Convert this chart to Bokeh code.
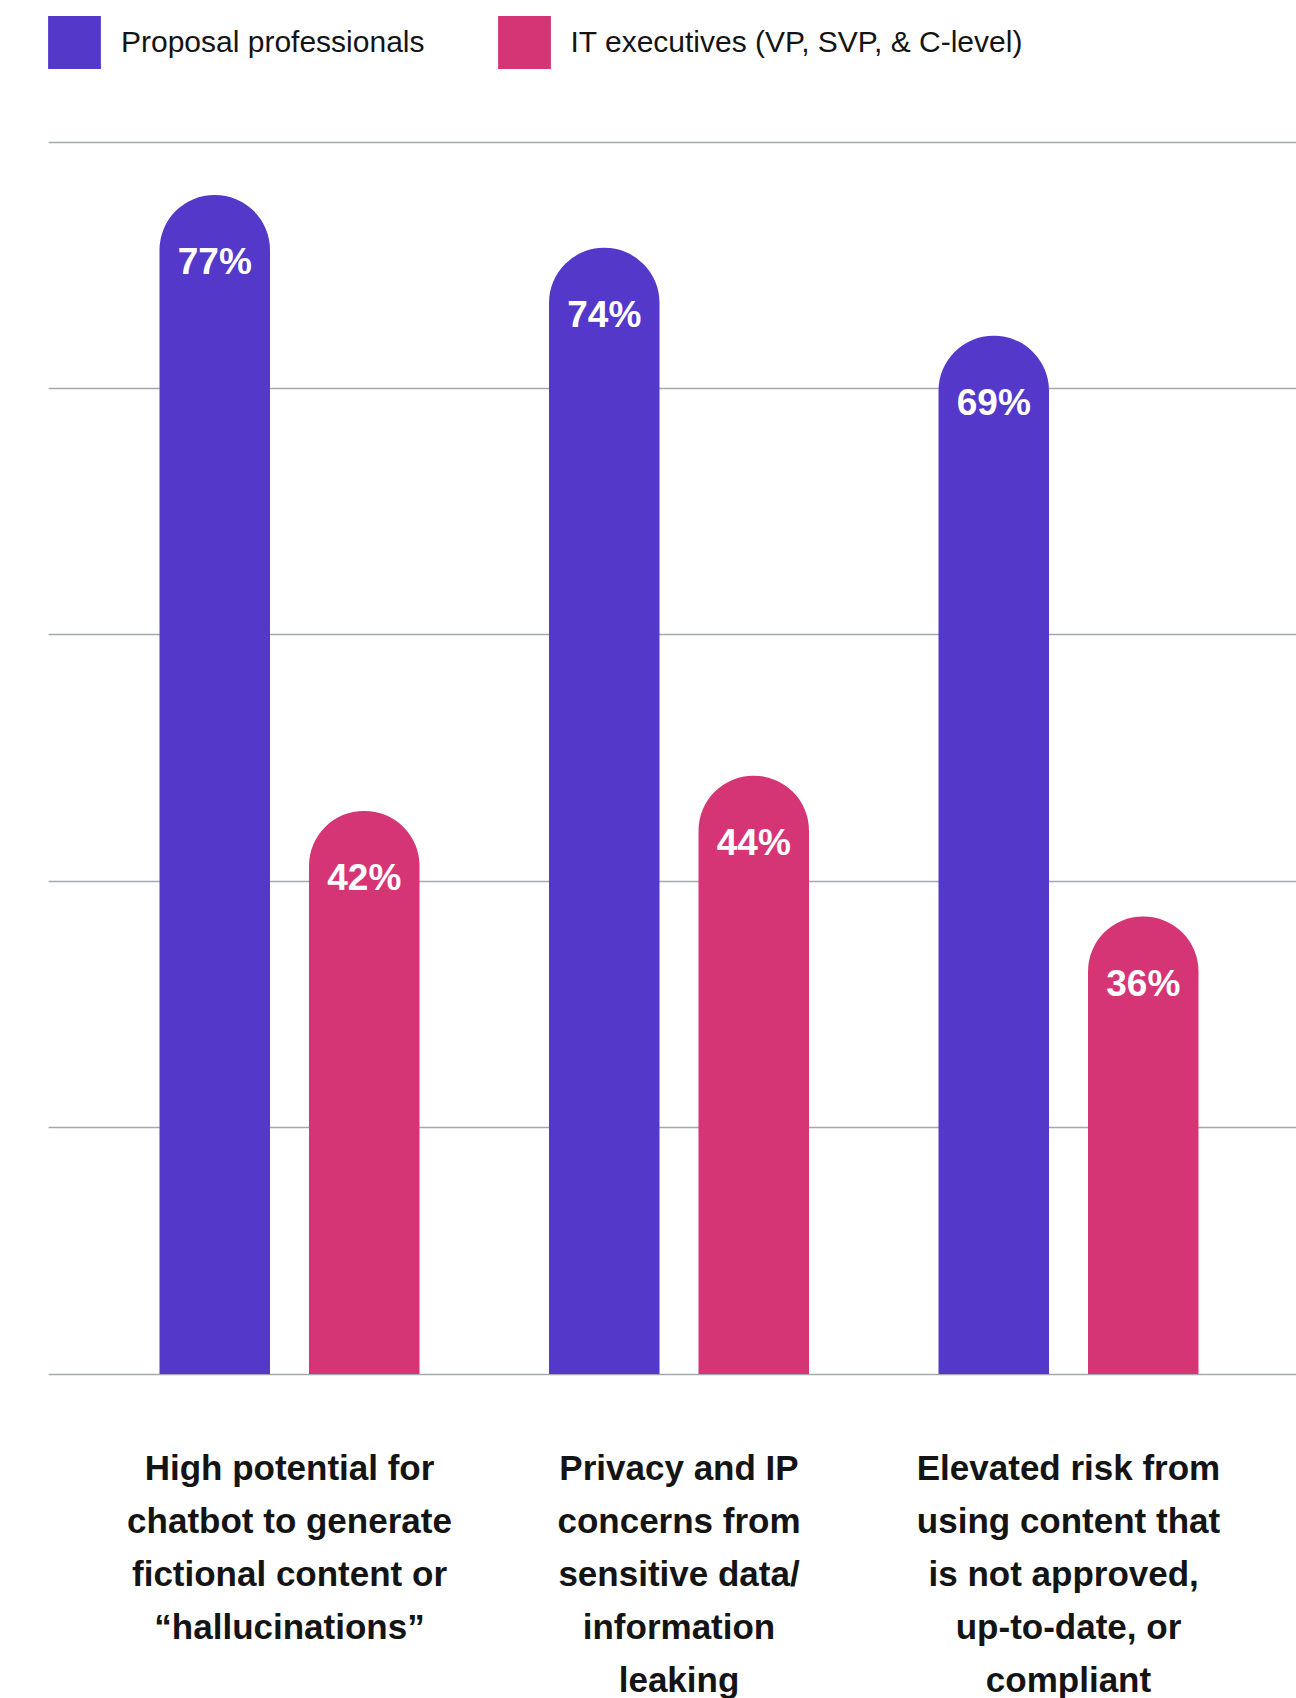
from bokeh.plotting import figure
from bokeh.models import ColumnDataSource, Range1d, FixedTicker, Grid, Legend, LegendItem, VBar
from bokeh.core.properties import value
from bokeh.embed import file_html
from bokeh.resources import INLINE

# ---------------- data ----------------
categories = [
    "High potential for\nchatbot to generate\nfictional content or\n\u201challucinations\u201d",
    "Privacy and IP\nconcerns from\nsensitive data/\ninformation\nleaking",
    "Elevated risk from\nusing content that\nis not  approved,\nup-to-date, or\ncompliant",
]
series_names = ["Proposal professionals", "IT executives (VP, SVP, & C-level)"]
proposal_pct = [77, 74, 69]
it_exec_pct = [42, 44, 36]
axis_min = 10
axis_max = 80
grid_ticks = [10, 24, 38, 52, 66, 80]

# ---------------- layout constants (screen px) ----------------
W, H = 1296, 1698
FRAME_TOP_PX = 141.7       # top gridline
BASE_PX = 1373.5           # baseline gridline
GRID_LEFT_PX = 47.6
GROUP0_PX = 289.0
GROUP_STEP_PX = 389.5
BAR_W_PX = 110.5
BAR_OFF_PX = 74.75

BLUE = "#5338CA"
PINK = "#D53575"
INK = "#141414"
FONT = "Liberation Sans"

ppu = (BASE_PX - FRAME_TOP_PX) / (axis_max - axis_min)
y_top = axis_max + FRAME_TOP_PX / ppu
y_bot = axis_min - (H - BASE_PX) / ppu
x_left = -GROUP0_PX / GROUP_STEP_PX
x_right = (W - GROUP0_PX) / GROUP_STEP_PX
bar_w = BAR_W_PX / GROUP_STEP_PX
bar_off = BAR_OFF_PX / GROUP_STEP_PX

p = figure(width=W, height=H, output_backend="svg", toolbar_location=None,
           x_range=Range1d(x_left, x_right), y_range=Range1d(y_bot, y_top),
           x_axis_location=None, y_axis_location=None, min_border=0)
p.outline_line_color = None
p.background_fill_color = "white"
p.border_fill_color = "white"
for g in list(p.xgrid) + list(p.ygrid):
    g.visible = False

grid = Grid(dimension=1, ticker=FixedTicker(ticks=grid_ticks),
            grid_line_color="#a5a9ae", grid_line_width=1.5)
if "cross_bounds" in Grid.properties():
    grid.cross_bounds = (GRID_LEFT_PX / GROUP_STEP_PX + x_left, x_right)
p.add_layout(grid, "center")

idx = list(range(len(categories)))
src_a = ColumnDataSource(dict(x=[i - bar_off for i in idx], top=proposal_pct,
                              lab=[f"{v}%" for v in proposal_pct]))
src_b = ColumnDataSource(dict(x=[i + bar_off for i in idx], top=it_exec_pct,
                              lab=[f"{v}%" for v in it_exec_pct]))

rad = 55
kw = {"border_radius": (rad, rad, 0, 0)} if "border_radius" in VBar.properties() else {}
r1 = p.vbar(x="x", top="top", bottom=axis_min, width=bar_w, source=src_a,
            fill_color=BLUE, line_color=None, **kw)
r2 = p.vbar(x="x", top="top", bottom=axis_min, width=bar_w, source=src_b,
            fill_color=PINK, line_color=None, **kw)

for s in (src_a, src_b):
    p.text(x="x", y="top", text="lab", source=s, y_offset=67,
           text_align="center", text_baseline="middle", text_color="white",
           text_font=value(FONT), text_font_style="bold", text_font_size="37px")

# category labels, line by line
lx, ly, lt, lo = [], [], [], []
for i, c in enumerate(categories):
    for k, line in enumerate(c.split("\n")):
        lx.append(i)
        ly.append(axis_min)
        lt.append(line)
        lo.append(93.5 + 53 * k)
p.text(x="x", y="y", text="t", y_offset="o",
       source=ColumnDataSource(dict(x=lx, y=ly, t=lt, o=lo)),
       text_align="center", text_baseline="middle", text_color=INK,
       text_font=value(FONT), text_font_style="bold", text_font_size="35px")

# legend glyph box is drawn inset by 10% on each side -> 66 px box gives ~53 px square
legend = Legend(
    items=[LegendItem(label=series_names[0], renderers=[r1]),
           LegendItem(label=series_names[1], renderers=[r2])],
    orientation="horizontal", location=(41, H - 74.6),
    glyph_width=66, glyph_height=66, label_standoff=14, spacing=66,
    label_text_font=FONT, label_text_font_size="30px", label_text_color=INK,
    label_text_baseline="middle",
    padding=0, margin=0, border_line_color=None, background_fill_alpha=0)
p.add_layout(legend, "center")

open("out.html", "w").write(file_html(p, INLINE))
